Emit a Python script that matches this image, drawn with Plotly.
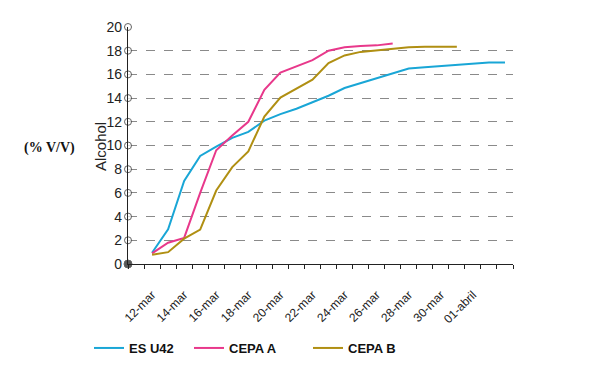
import pandas as pd
import plotly.graph_objects as go

# ---- data ----
start_date = "2013-03-12"
es_u42 = [0.95, 2.93, 7.0, 9.12, 9.9, 10.65, 11.15, 12.1, 12.65, 13.1, 13.65, 14.2,
          14.85, 15.25, 15.65, 16.05, 16.5, 16.6, 16.7, 16.8, 16.9, 17.0, 17.0]
cepa_a = [0.9, 1.8, 2.2, 6.0, 9.6, 10.85, 12.0, 14.7, 16.15, 16.65, 17.2, 18.0,
          18.3, 18.4, 18.45, 18.6]
cepa_b = [0.78, 1.0, 2.14, 2.9, 6.2, 8.18, 9.5, 12.44, 14.05, 14.8, 15.55, 16.95,
          17.6, 17.9, 18.05, 18.15, 18.3, 18.33, 18.33, 18.33]
tick_dates = ["2013-03-12", "2013-03-14", "2013-03-16", "2013-03-18", "2013-03-20",
              "2013-03-22", "2013-03-24", "2013-03-26", "2013-03-28", "2013-03-30",
              "2013-04-01"]
tick_labels = ["12-mar", "14-mar", "16-mar", "18-mar", "20-mar", "22-mar",
               "24-mar", "26-mar", "28-mar", "30-mar", "01-abril"]
y_ticks = [0, 2, 4, 6, 8, 10, 12, 14, 16, 18, 20]
series_names = ["ES U42", "CEPA A", "CEPA B"]
colors = ["#19a6d6", "#e8388b", "#b08f12"]

x_start = "2013-03-10 12:00"
x_end = "2013-04-03 12:00"

def dates(n):
    return pd.date_range(start_date, periods=n, freq="D")

fig = go.Figure()
legends = ["legend", "legend2", "legend3"]
for name, vals, col, lg in zip(series_names, [es_u42, cepa_a, cepa_b], colors, legends):
    fig.add_trace(go.Scatter(x=dates(len(vals)), y=vals, mode="lines", name=name,
                             line=dict(color=col, width=2), legend=lg))

# circular tick marks on the y axis
fig.add_trace(go.Scatter(
    x=[pd.Timestamp(x_start)] * len(y_ticks), y=y_ticks, mode="markers",
    marker=dict(size=[8] + [7] * (len(y_ticks) - 1),
                color=["#111111"] + ["white"] * (len(y_ticks) - 1),
                line=dict(color="#222222", width=1)),
    cliponaxis=False, showlegend=False, hoverinfo="skip"))

font = "Liberation Sans, Arial, sans-serif"
leg_y = 30 / 370
leg_common = dict(orientation="h", yanchor="middle", xanchor="left",
                  xref="container", yref="container", y=leg_y,
                  font=dict(family=font, size=13, color="#111111", weight="bold"),
                  bgcolor="rgba(0,0,0,0)", tracegroupgap=0)
fig.update_layout(
    width=595, height=370,
    margin=dict(l=120, r=90, t=19, b=114, autoexpand=False),
    paper_bgcolor="white", plot_bgcolor="white",
    font=dict(family=font, color="#111111"),
    legend=dict(x=81 / 595, **leg_common),
    legend2=dict(x=181 / 595, **leg_common),
    legend3=dict(x=300 / 595, **leg_common),
    xaxis=dict(type="date", range=[x_start, x_end], showgrid=False, automargin=False,
               showline=True, linecolor="#222222", linewidth=1.3,
               tickvals=tick_dates, ticktext=tick_labels, ticks="",
               tickangle=-45, tickfont=dict(family=font, size=12, color="#222222"),
               ticklabelstandoff=18,
               minor=dict(ticks="outside", tick0=x_start, dtick=86400000,
                          ticklen=4, tickcolor="#222222", showgrid=False),
               zeroline=False, fixedrange=True),
    yaxis=dict(range=[0, 20], tickvals=y_ticks, showgrid=True, gridcolor="#8a8a8a",
               griddash="dash", gridwidth=1, showline=True, linecolor="#222222",
               linewidth=1.3, ticks="", ticklabelstandoff=2, automargin=False,
               tickfont=dict(family=font, size=14, color="#222222"),
               zeroline=False, fixedrange=True),
    showlegend=True,
)
fig.add_annotation(text="Alcohol", xref="paper", yref="paper",
                   x=(100 - 128) / 385, y=(264 - 147) / 237, showarrow=False,
                   xanchor="center", yanchor="middle",
                   textangle=-90, font=dict(family=font, size=15, color="#222222"))
fig.add_annotation(text="(% V/V)", xref="paper", yref="paper",
                   x=(49 - 128) / 385, y=(264 - 148) / 237, showarrow=False,
                   xanchor="center", yanchor="middle",
                   font=dict(family="Liberation Serif, Times New Roman, serif", size=14,
                             color="#111111", weight="bold"))
fig.write_html("out.html")
